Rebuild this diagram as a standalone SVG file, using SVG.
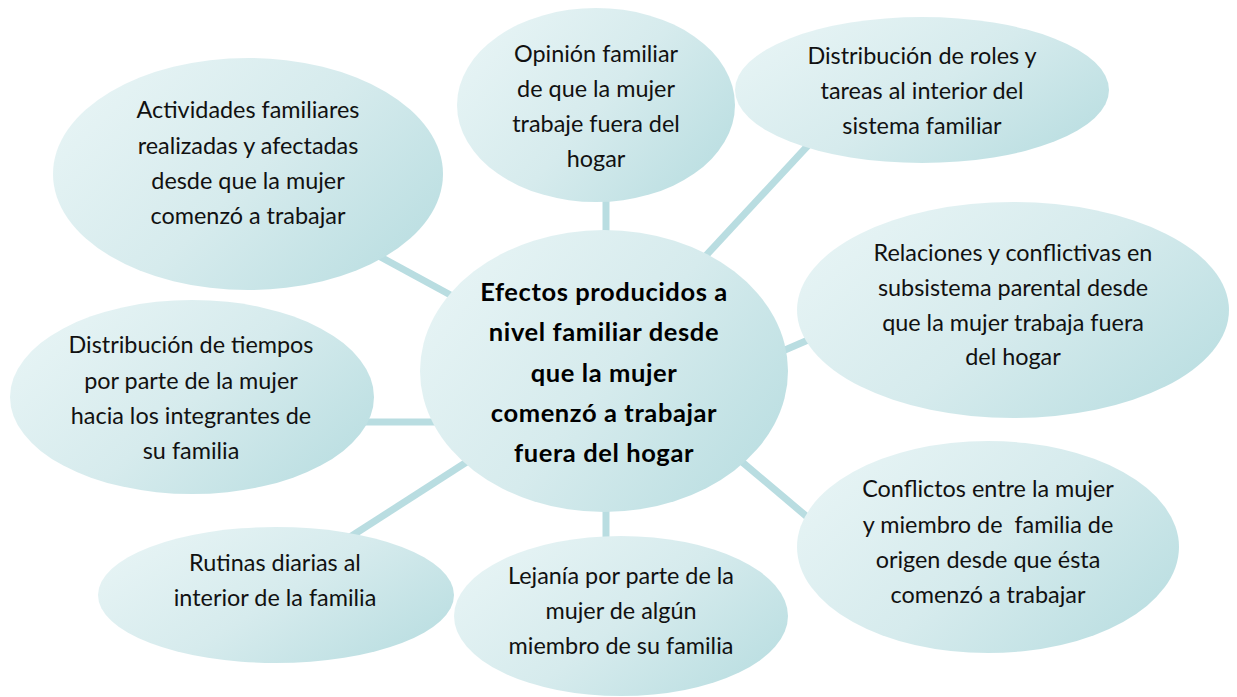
<svg xmlns="http://www.w3.org/2000/svg" width="1237" height="697" viewBox="0 0 1237 697">
<defs>
<linearGradient id="fill" x1="0.05" y1="0.25" x2="0.95" y2="0.8">
<stop offset="0" stop-color="#e5f3f4"/>
<stop offset="0.5" stop-color="#d6ebed"/>
<stop offset="1" stop-color="#bcdfe2"/>
</linearGradient>
</defs>
<style>
.node ellipse{fill:url(#fill);stroke:none}
.t{font-family:Lato,"Open Sans",sans-serif;font-size:23.4px;fill:#111;text-anchor:middle}
.b{font-family:Lato,"Open Sans",sans-serif;font-size:25.5px;letter-spacing:0.6px;font-weight:bold;fill:#000;text-anchor:middle}
.conn line{stroke:#b9dde1;stroke-width:7;stroke-linecap:butt}
</style>
<rect width="1237" height="697" fill="#ffffff"/>
<g id="connectors" class="conn">
<line x1="606" y1="195" x2="606" y2="240"/>
<line x1="814" y1="139" x2="700" y2="262"/>
<line x1="778" y1="353" x2="815" y2="337"/>
<line x1="735" y1="456" x2="812" y2="521"/>
<line x1="606" y1="505" x2="606" y2="545"/>
<line x1="350" y1="537" x2="476" y2="456"/>
<line x1="365" y1="422" x2="440" y2="422"/>
<line x1="375" y1="254" x2="456" y2="298"/>
</g>
<g id="n-center" class="node">
<ellipse cx="604" cy="371" rx="184" ry="141"/>
<text class="b" x="604" y="301">Efectos producidos a</text>
<text class="b" x="604" y="341">nivel familiar desde</text>
<text class="b" x="604" y="381.5">que la mujer</text>
<text class="b" x="604" y="421.5">comenzó a trabajar</text>
<text class="b" x="604" y="461.5">fuera del hogar</text>
</g>
<g id="n-opinion" class="node">
<ellipse cx="596" cy="105" rx="139" ry="97"/>
<text class="t" x="596" y="62">Opinión familiar</text>
<text class="t" x="596" y="97">de que la mujer</text>
<text class="t" x="596" y="132">trabaje fuera del</text>
<text class="t" x="596" y="167">hogar</text>
</g>
<g id="n-roles" class="node">
<ellipse cx="922" cy="90" rx="187" ry="73"/>
<text class="t" x="922" y="64">Distribución de roles y</text>
<text class="t" x="922" y="99">tareas al interior del</text>
<text class="t" x="922" y="134">sistema familiar</text>
</g>
<g id="n-relaciones" class="node">
<ellipse cx="1013" cy="310" rx="216" ry="108"/>
<text class="t" x="1013" y="261">Relaciones y conflictivas en</text>
<text class="t" x="1013" y="296">subsistema parental desde</text>
<text class="t" x="1013" y="331">que la mujer trabaja fuera</text>
<text class="t" x="1013" y="365">del hogar</text>
</g>
<g id="n-conflictos" class="node">
<ellipse cx="988" cy="547" rx="191" ry="106"/>
<text class="t" x="988" y="497">Conflictos entre la mujer</text>
<text class="t" x="988" y="532.5" style="white-space:pre">y miembro de  familia de</text>
<text class="t" x="988" y="567.5">origen desde que ésta</text>
<text class="t" x="988" y="602.5">comenzó a trabajar</text>
</g>
<g id="n-lejania" class="node">
<ellipse cx="621" cy="616" rx="167" ry="80"/>
<text class="t" x="621" y="584">Lejanía por parte de la</text>
<text class="t" x="621" y="619">mujer de algún</text>
<text class="t" x="621" y="654">miembro de su familia</text>
</g>
<g id="n-rutinas" class="node">
<ellipse cx="276" cy="595" rx="178" ry="68"/>
<text class="t" x="275" y="571">Rutinas diarias al</text>
<text class="t" x="275" y="606">interior de la familia</text>
</g>
<g id="n-tiempos" class="node">
<ellipse cx="192" cy="397" rx="182" ry="97"/>
<text class="t" x="191" y="353">Distribución de tiempos</text>
<text class="t" x="191" y="388.5">por parte de la mujer</text>
<text class="t" x="191" y="424">hacia los integrantes de</text>
<text class="t" x="191" y="459">su familia</text>
</g>
<g id="n-actividades" class="node">
<ellipse cx="248" cy="174" rx="195" ry="116"/>
<text class="t" x="248" y="118">Actividades familiares</text>
<text class="t" x="248" y="153.5">realizadas y afectadas</text>
<text class="t" x="248" y="188.5">desde que la mujer</text>
<text class="t" x="248" y="224">comenzó a trabajar</text>
</g>
</svg>
